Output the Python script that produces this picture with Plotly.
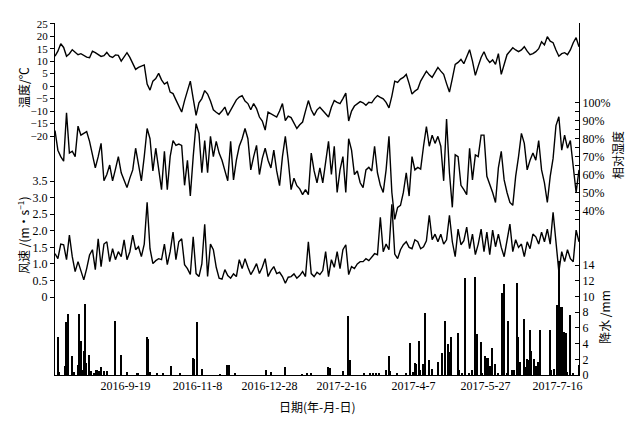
import pandas as pd
import plotly.graph_objects as go

# daily-ish series sampled every 2 days from 2016-08-01
temp = [12, 14, 17, 15.5, 12, 13, 14.6, 13.5, 12.6, 13, 12.2, 11.6, 11.4, 14, 13.4, 12.8, 11.9, 12.2, 13.5, 12,
        11.5, 12.5, 12.3, 10, 11.5, 13.4, 11.5, 9, 6.7, 7.5, 8, 8.5, 0.8, -1.6, 2, 3, 5.1, 2.5, 0.8, 1.6,
        -2.4, -3, -5.5, -8, -10.4, -5.8, -2, 2, -5, -11.7, -6.7, -5, -1.8, -3.2, -6, -9.5, -10.5, -11.3, -10, -8.4,
        -11.7, -9.5, -7.7, -5.5, -4.4, -3.8, -6, -7, -9.5, -7, -9, -12.4, -14, -17.6, -10.4, -11, -11.7, -12.4, -10, -7,
        -13.8, -12, -12.6, -15, -17, -15.5, -14.4, -10, -5.8, -9.5, -11.7, -9.5, -8.5, -9.8, -11, -12.4, -8.5, -5.8, -6.5, -7,
        -5, -2.8, -14, -10, -8, -7, -6.2, -6.7, -7.7, -6.5, -6.7, -5, -3.8, -4.5, -5.1, -6.5, -8.7, -4, 2, 1.5,
        2.8, 3.5, 4.7, 1, -3.2, -2, -1.2, 2, 4, 6, 4.5, 3.5, 5.5, 7.5, 6, 4.7, 1, -2.4, 3, 8.7,
        9.5, 10.7, 9, 12, 14.6, 10, 4.3, 8, 11.5, 13.8, 11, 9.5, 10.5, 8.7, 13, 4.7, 9, 12.6, 14, 15.4,
        14.5, 13.8, 14.5, 15.8, 14, 12.6, 13, 13.8, 15, 17.8, 16.5, 19.8, 18, 17.4, 14.5, 12, 13, 13.4, 12.6, 14.5,
        17.4, 19.4, 15.8]

humidity = [84.6, 73.6, 70, 67.5, 94.5, 72, 73, 70, 87, 82, 83, 84, 78.5, 71, 63.7, 70, 77.4, 56.5, 60, 65.3,
            56.5, 63, 70, 61, 57, 52.7, 58, 62.6, 74.7, 66, 56.5, 70, 85.7, 80, 62, 74.7, 62, 51.6, 73, 51.6,
            70, 79, 76.3, 77, 76.3, 54, 68, 48, 70, 88.4, 83, 61, 79, 61, 81.3, 70, 78.5, 72, 68, 62,
            56.5, 78.5, 57, 68, 75.8, 80, 85.7, 80, 62.6, 70, 76.3, 60, 69, 74.7, 68, 63.7, 73.6, 62, 53.8, 70,
            81.3, 68, 51.6, 58, 53.8, 52, 48.8, 51.6, 48.8, 72, 62, 55.4, 63.7, 55.4, 66.4, 78.5, 60, 75.8, 50, 62.6,
            70, 50, 80, 73.6, 60, 62, 55.4, 52.7, 62.6, 64, 62, 75.8, 61, 54, 50, 62.6, 81.3, 50, 35, 41.7,
            42.8, 50, 61, 48, 70, 62.6, 64, 63, 75.8, 86.8, 75.8, 82, 77.4, 81.3, 75.8, 56.5, 91, 61, 41.7, 71,
            70, 54, 51.6, 48.8, 74.7, 57, 71, 70, 82, 82, 59, 55, 50, 44.4, 63.7, 73, 57, 50, 44.4, 42.8,
            59, 70, 83, 77.4, 62.6, 68, 72, 68, 79, 62.6, 55.4, 44.4, 59, 69, 87.3, 92.3, 73.6, 82, 74.7, 79,
            63.7, 50, 62.6]

wind = [1.31, 1.16, 1.6, 1.58, 1.13, 1.87, 1.22, 0.77, 1.07, 0.77, 0.52, 0.86, 1.27, 1.43, 0.83, 1.76, 0.92, 1.6, 1.67, 1.07,
        1.46, 1.13, 1.37, 1.22, 1.73, 1.13, 1.37, 1.87, 1.43, 1.52, 1.22, 1.6, 2.86, 1.46, 1.01, 1.1, 1.16, 1.13, 1.6, 0.98,
        1.37, 1.96, 1.13, 1.67, 1.76, 0.98, 0.86, 0.68, 1.82, 0.71, 0.62, 1.0, 2.2, 0.62, 1.6, 1.43, 0.9, 0.57, 0.54, 0.83,
        0.65, 0.57, 0.7, 0.62, 1.13, 0.86, 1.16, 0.9, 0.68, 0.83, 1.01, 0.71, 0.9, 1.16, 0.62, 0.8, 0.92, 0.71, 0.75, 0.62,
        0.42, 0.6, 0.62, 0.7, 0.57, 0.65, 0.77, 0.62, 1.67, 0.71, 0.62, 0.75, 0.68, 0.8, 1.37, 0.62, 1.13, 0.9, 1.37, 0.86,
        1.43, 1.58, 0.68, 0.92, 0.86, 1.0, 1.07, 1.07, 1.16, 1.1, 1.22, 1.31, 1.28, 2.41, 1.37, 1.6, 1.43, 2.8, 1.3, 1.16,
        1.43, 1.58, 1.67, 1.5, 1.46, 1.73, 1.67, 1.46, 1.52, 1.7, 2.47, 1.73, 1.9, 1.67, 1.9, 1.6, 1.73, 2.47, 1.67, 1.22,
        2.05, 1.58, 1.7, 2.11, 1.46, 1.9, 1.28, 1.6, 2.05, 1.37, 1.96, 1.28, 2.02, 1.52, 1.9, 1.5, 1.22, 1.73, 2.2, 1.37,
        1.73, 1.5, 1.6, 1.22, 1.67, 1.46, 1.9, 1.82, 1.6, 1.96, 1.67, 2.05, 1.6, 2.56, 1.58, 0.77, 1.37, 1.07, 1.43, 1.16,
        1.07, 2.02, 1.67]

# precipitation: days after 2016-08-01 and amount (mm)
precip_day = [2, 3, 7, 8, 9, 12, 13, 16, 17, 18, 19, 20, 21, 22, 24, 25, 27, 29, 31, 32,
              34, 36, 42, 46, 50, 57, 58, 64, 65, 66, 71, 75, 81, 87, 96, 97, 99, 102, 115, 120,
              121, 125, 147, 150, 160, 172, 175, 178, 190, 191, 200, 204, 205, 215, 219, 221, 223, 225, 230, 232,
              233, 238, 244, 247, 249, 250, 251, 253, 254, 256, 257, 260, 262, 266, 269, 271, 273, 274, 275, 280,
              281, 283, 285, 288, 290, 292, 293, 296, 297, 299, 300, 301, 302, 304, 306, 308, 311, 312, 314, 315,
              318, 319, 321, 322, 323, 326, 327, 328, 329, 330, 331, 333, 334, 336, 337, 344, 345, 347, 349, 350,
              351, 352, 353, 354, 355, 356, 358, 360, 364]
precip_mm = [4.8, 0.4, 1.1, 6.8, 7.8, 2.4, 0.4, 1.3, 7.8, 4.4, 0.6, 3.1, 9.0, 1.5, 2.6, 0.5, 0.3, 0.6, 0.5, 1.0,
             0.5, 0.5, 6.9, 2.5, 0.4, 0.3, 0.3, 4.9, 4.6, 0.4, 0.3, 0.3, 1.1, 0.2, 2.2, 2.1, 6.8, 0.8, 0.1, 1.3,
             1.3, 0.2, 0.6, 0.4, 1.0, 0.1, 0.3, 0.2, 1.0, 0.9, 0.5, 7.5, 1.9, 0.2, 0.2, 0.3, 0.3, 0.2, 0.6, 2.4,
             0.5, 0.2, 0.2, 4.1, 0.4, 1.5, 1.4, 4.4, 0.7, 1.4, 7.9, 1.9, 0.8, 1.6, 2.8, 6.9, 3.9, 2.9, 4.9, 5.4,
             0.7, 0.3, 12.4, 0.3, 0.6, 12.5, 5.2, 4.2, 0.3, 2.4, 2.2, 2.2, 1.1, 3.5, 1.4, 0.2, 10.5, 11.6, 0.2, 6.9,
             0.7, 0.6, 11.7, 4.9, 1.7, 7.1, 1.0, 2.1, 1.9, 5.7, 3.1, 2.0, 1.2, 1.7, 5.7, 5.7, 0.7, 0.8, 8.9, 14.5,
             1.7, 8.7, 2.2, 5.5, 5.3, 0.4, 7.6, 0.2, 1.3]

x_ticks = ["2016-09-19", "2016-11-08", "2016-12-28", "2017-02-16", "2017-04-07", "2017-05-27", "2017-07-16"]
x_ticktext = ["2016-9-19", "2016-11-8", "2016-12-28", "2017-2-16", "2017-4-7", "2017-5-27", "2017-7-16"]

dates = pd.date_range("2016-08-01", periods=len(temp), freq="2D")
precip_dates = pd.Timestamp("2016-08-01") + pd.to_timedelta(precip_day, unit="D")

FONT = "Liberation Serif, serif"
CJK_FONT = "Noto Sans CJK SC, Liberation Serif, sans-serif"

fig = go.Figure()
fig.add_trace(go.Scatter(x=dates, y=temp, mode="lines", yaxis="y",
                         line=dict(color="black", width=1.4)))
fig.add_trace(go.Scatter(x=dates, y=humidity, mode="lines", yaxis="y2",
                         line=dict(color="black", width=1.4)))
fig.add_trace(go.Scatter(x=dates, y=wind, mode="lines", yaxis="y3",
                         line=dict(color="black", width=1.4)))
fig.add_trace(go.Bar(x=precip_dates, y=precip_mm, yaxis="y4",
                     width=86400000 * 1.1, marker=dict(color="black", line=dict(width=0))))

axis_common = dict(showgrid=False, zeroline=False, showline=True, linecolor="black",
                   linewidth=1, tickcolor="black")
tick_font = dict(family=FONT, size=12, color="black")

# the page body adds an 8px offset, so margins are shifted to keep the plot area in place
fig.update_layout(
    width=635, height=421,
    margin=dict(l=47, r=64, t=10, b=54),
    paper_bgcolor="white", plot_bgcolor="white",
    showlegend=False,
    bargap=0,
    font=dict(family=FONT, size=12, color="black"),
    xaxis=dict(range=["2016-08-01", "2017-07-31"], tickvals=x_ticks, ticktext=x_ticktext,
               ticks="", showgrid=False, zeroline=False, showline=True, linecolor="black",
               linewidth=1, tickfont=tick_font),
    yaxis=dict(range=[-115.8, 25.3], tickvals=[-20, -15, -10, -5, 0, 5, 10, 15, 20, 25],
               ticks="outside", ticklen=4, side="left",
               tickfont=dict(family=FONT, size=11, color="black"), **axis_common),
    yaxis2=dict(range=[-51.9, 144.6], overlaying="y", side="right", anchor="x",
                tickvals=[40, 50, 60, 70, 80, 90, 100],
                ticktext=["40%", "50%", "60%", "70%", "80%", "90%", "100%"],
                ticks="inside", ticklen=4, tickfont=tick_font,
                minor=dict(tickmode="array", tickvals=[35, 45, 55, 65, 75, 85, 95],
                           ticks="inside", ticklen=4, tickcolor="black"),
                **axis_common),
    yaxis3=dict(range=[-2.35, 8.27], overlaying="y", side="left", anchor="x",
                tickvals=[0, 0.5, 1, 1.5, 2, 2.5, 3, 3.5],
                ticktext=["0", "0.5", "1.0", "1.5", "2.0", "2.5", "3.0", "3.5"],
                ticks="outside", ticklen=4, tickfont=tick_font, **axis_common),
    yaxis4=dict(range=[0, 44.9], overlaying="y", side="right", anchor="x",
                tickvals=[0, 2, 4, 6, 8, 10, 12, 14],
                ticks="inside", ticklen=4, tickfont=tick_font, **axis_common),
)

title_font = dict(family=CJK_FONT, size=12, color="black")
fig.add_annotation(text="温度/℃", xref="paper", yref="paper", x=(23 - 55) / 524, y=(375 - 84) / 357,
                   textangle=-90, showarrow=False, font=title_font, xanchor="center", yanchor="middle")
fig.add_annotation(text="风速 /(m·s<sup>−1</sup>)", xref="paper", yref="paper", x=(23 - 55) / 524,
                   y=(375 - 233) / 357,
                   textangle=-90, showarrow=False, font=title_font, xanchor="center", yanchor="middle")
fig.add_annotation(text="相对湿度", xref="paper", yref="paper", x=(617 - 55) / 524, y=(375 - 152) / 357,
                   textangle=-90, showarrow=False, font=title_font, xanchor="center", yanchor="middle")
fig.add_annotation(text="降水 /mm", xref="paper", yref="paper", x=(605 - 55) / 524, y=(375 - 316) / 357,
                   textangle=-90, showarrow=False, font=title_font, xanchor="center", yanchor="middle")
fig.add_annotation(text="日期(年-月-日)", xref="paper", yref="paper", x=(317 - 55) / 524, y=(375 - 407) / 357,
                   showarrow=False, font=title_font, xanchor="center", yanchor="middle")

fig.write_html("out.html")
